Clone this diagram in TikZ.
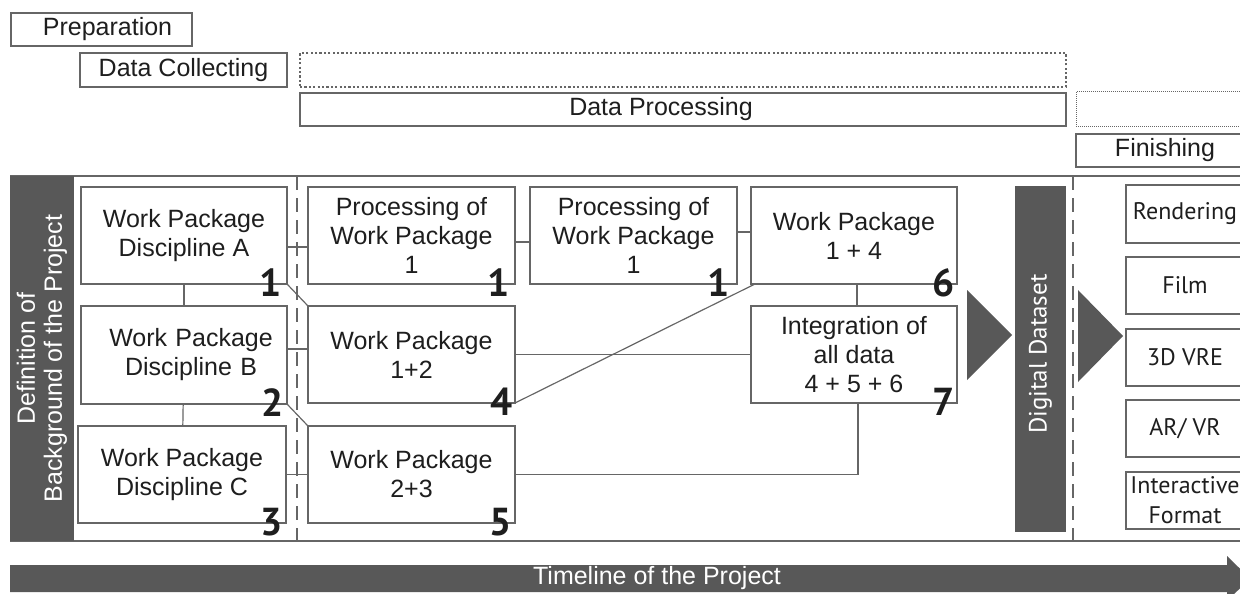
\documentclass[tikz,border=0pt]{standalone}
\usepackage{fontspec}
\setmainfont{Liberation Sans}
\newfontfamily\humfont{PT Sans}
\definecolor{ink}{HTML}{1E1E1E}
\definecolor{edge}{HTML}{666666}
\definecolor{barfill}{HTML}{585858}
\tikzset{
  wp/.style={draw=edge, line width=1.3pt, fill=white, inner sep=0pt, outer sep=0pt,
    anchor=north west, text=ink, align=center, font=\fontsize{25}{29}\selectfont},
  phase/.style={draw=edge, line width=1.3pt, inner sep=0pt, outer sep=0pt,
    anchor=north west, text=ink, font=\fontsize{25}{30}\selectfont},
  outbox/.style={wp, font=\humfont\fontsize{24}{28}\selectfont},
  num/.style={anchor=base east, inner sep=0pt, text=ink,
    font=\humfont\bfseries\fontsize{39}{39}\selectfont},
  link/.style={draw=edge, line width=1.2pt},
  divider/.style={draw=edge, line width=1.2pt, dash pattern=on 14pt off 8pt},
  bar/.style={fill=barfill, text=white, inner sep=0pt, rotate=90},
}
\begin{document}
\begin{tikzpicture}[x=1pt, y=-1pt]
\useasboundingbox (0,0) rectangle (1240,594);
\clip (0,0) rectangle (1240,594);

% project phases
\node[phase, minimum width=181pt, minimum height=33pt,
  label={[text=ink, font=\fontsize{25}{30}\selectfont, xshift=6pt]center:Preparation}] (prep) at (11,13) {};
\node[phase, minimum width=207pt, minimum height=34pt] (collect) at (80,53) {Data Collecting};
\node[phase, minimum width=766pt, minimum height=34pt, line width=1.1pt,
  dash pattern=on 2.2pt off 2.2pt] (collecttail) at (300,53) {};
\node[phase, minimum width=766pt, minimum height=33pt,
  label={[text=ink, font=\fontsize{25}{30}\selectfont, xshift=-22pt]center:Data Processing}] (process) at (300,93) {};
\node[phase, minimum width=178pt, minimum height=34pt, line width=1pt,
  densely dotted] (processtail) at (1076,92) {};
\node[phase, minimum width=178pt, minimum height=33pt] (finish) at (1076,134) {Finishing};

% frame of the work area
\draw[edge, line width=1.5pt] (10,176) -- (1245,176);
\draw[edge, line width=1.5pt] (10,541) -- (1245,541);
\node[bar, minimum width=365pt, minimum height=64pt, align=center,
  font=\fontsize{25}{27}\selectfont] (background) at (42,358.5)
  {Definition of\\Background of the Project};
\draw[divider] (297,176) -- (297,541);
\draw[divider] (1073,176) -- (1073,541);

% work packages per discipline
\node[wp, minimum width=206pt, minimum height=97pt] (wpA) at (81,187) {Work Package\\Discipline A};
\node[wp, minimum width=206pt, minimum height=98pt, text width=206pt,
  align=center] (wpB) at (81,306) {\hspace*{14pt}Work Package\\\hspace*{14pt}Discipline B};
\node[wp, minimum width=208pt, minimum height=97pt] (wpC) at (78,426) {Work Package\\Discipline C};

% processing steps
\node[wp, minimum width=207pt, minimum height=97pt] (proc1) at (308,187) {Processing of\\Work Package\\1};
\node[wp, minimum width=207pt, minimum height=97pt] (proc2) at (530,187) {Processing of\\Work Package\\1};
\node[wp, minimum width=206pt, minimum height=97pt] (wp14) at (751,187) {Work Package\\1 + 4};
\node[wp, minimum width=207pt, minimum height=97pt] (wp12) at (308,306) {Work Package\\1+2};
\node[wp, minimum width=206pt, minimum height=97pt] (integ) at (751,306) {Integration of\\all data\\4 + 5 + 6};
\node[wp, minimum width=207pt, minimum height=97pt] (wp23) at (308,426) {Work Package\\2+3};

% connectors
\draw[link] (wpA) -- (wpB);
\draw[link] (wpB) -- (wpC);
\draw[link] ([yshift=-11.5pt]wpA.east) -- ([yshift=-11.5pt]proc1.west);
\draw[link] ([yshift=6pt]wpB.east) -- ([yshift=5.5pt]wp12.west);
\draw[link] (wpC.east) -- (wp23.west);
\draw[link] (wpA.south east) -- (wp12.north west);
\draw[link] (wpB.south east) -- (wp23.north west);
\draw[link] ([yshift=-6.5pt]proc1.east) -- ([yshift=-6.5pt]proc2.west);
\draw[link] ([yshift=3.5pt]proc2.east) -- ([yshift=3.5pt]wp14.west);
\draw[link] (wp12.east) -- (integ.west);
\draw[link] (wp12.south east) -- ([xshift=4pt]wp14.south west);
\draw[link] ([xshift=3pt]wp14.south) -- ([xshift=3pt]integ.north);
\draw[link] (wp23.east) -| ([xshift=4pt]integ.south);

% package numbers
\node[num] (nA) at ([xshift=-5pt,yshift=-12pt]wpA.south east) {1};
\node[num] (nB) at ([xshift=-3pt,yshift=-12pt]wpB.south east) {2};
\node[num] (nC) at ([xshift=-3pt,yshift=-12pt]wpC.south east) {3};
\node[num] (nP1) at ([xshift=-5pt,yshift=-12pt]proc1.south east) {1};
\node[num] (nP2) at ([xshift=-7pt,yshift=-12pt]proc2.south east) {1};
\node[num] (n4) at ([xshift=-2pt,yshift=-12pt]wp12.south east) {4};
\node[num] (n5) at ([xshift=-3pt,yshift=-12pt]wp23.south east) {5};
\node[num] (n6) at ([xshift=-2pt,yshift=-12pt]wp14.south east) {6};
\node[num] (n7) at ([xshift=-2pt,yshift=-12pt]integ.south east) {7};

% towards the digital dataset
\fill[barfill] (967,290) -- (1012,335) -- (967,380) -- cycle;
\node[bar, minimum width=346pt, minimum height=51pt,
  font=\humfont\fontsize{25}{28}\selectfont] (dataset) at (1040.5,359) {\hspace*{10pt}Digital Dataset};
\fill[barfill] (1078,290) -- (1123,336) -- (1078,382) -- cycle;

% output formats
\node[outbox, minimum width=118pt, minimum height=58pt] (render) at (1126,185) {Rendering};
\node[outbox, minimum width=118pt, minimum height=57pt] (film) at (1126,257) {Film};
\node[outbox, minimum width=118pt, minimum height=57pt] (vre) at (1126,329) {3D VRE};
\node[outbox, minimum width=118pt, minimum height=57pt] (arvr) at (1126,400) {AR/ VR};
\node[outbox, minimum width=118pt, minimum height=57pt,
  font=\humfont\fontsize{24}{30}\selectfont] (interactive) at (1126,472) {Interactive\\Format};

% timeline
\fill[barfill] (10,565) -- (1227,565) -- (1227,556) -- (1250,578.5) -- (1227,601)
  -- (1227,592) -- (10,592) -- cycle;
\node[text=white, font=\fontsize{25}{30}\selectfont] (timeline) at (657,578.5) {Timeline of the Project};
\end{tikzpicture}
\end{document}
